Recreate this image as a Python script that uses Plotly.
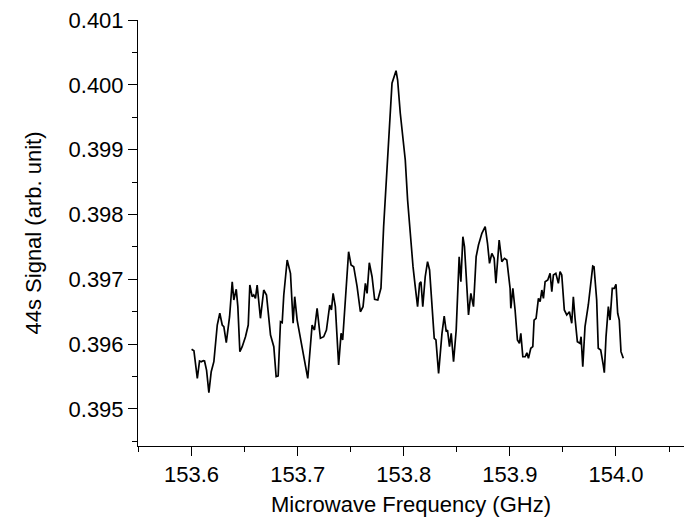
import plotly.graph_objects as go

freq_ghz = [
    153.6000, 153.6022, 153.6054, 153.6075, 153.6091, 153.6110, 153.6122, 153.6141, 153.6163, 153.6185,
    153.6210, 153.6242, 153.6266, 153.6289, 153.6304, 153.6327, 153.6358, 153.6383, 153.6398, 153.6421,
    153.6436, 153.6455, 153.6477, 153.6508, 153.6534, 153.6549, 153.6571, 153.6586, 153.6602, 153.6618,
    153.6649, 153.6680, 153.6706, 153.6744, 153.6775, 153.6797, 153.6816, 153.6838, 153.6854, 153.6869,
    153.6901, 153.6932, 153.6957, 153.6972, 153.6995, 153.7042, 153.7095, 153.7136, 153.7158, 153.7183,
    153.7214, 153.7245, 153.7271, 153.7302, 153.7318, 153.7334, 153.7355, 153.7386, 153.7409, 153.7424,
    153.7449, 153.7480, 153.7503, 153.7528, 153.7560, 153.7591, 153.7616, 153.7638, 153.7654, 153.7675,
    153.7701, 153.7725, 153.7755, 153.7785, 153.7810, 153.7835, 153.7857, 153.7889, 153.7927, 153.7942,
    153.7967, 153.7992, 153.8014, 153.8036, 153.8061, 153.8087, 153.8108, 153.8130, 153.8149, 153.8162,
    153.8179, 153.8202, 153.8224, 153.8243, 153.8287, 153.8303, 153.8328, 153.8360, 153.8381, 153.8400,
    153.8412, 153.8431, 153.8447, 153.8469, 153.8494, 153.8522, 153.8538, 153.8557, 153.8572, 153.8595,
    153.8610, 153.8632, 153.8657, 153.8682, 153.8704, 153.8736, 153.8767, 153.8789, 153.8808, 153.8830,
    153.8852, 153.8868, 153.8899, 153.8924, 153.8949, 153.8971, 153.9002, 153.9009, 153.9028, 153.9049,
    153.9071, 153.9090, 153.9103, 153.9122, 153.9144, 153.9160, 153.9175, 153.9197, 153.9216, 153.9228,
    153.9247, 153.9269, 153.9285, 153.9301, 153.9316, 153.9332, 153.9357, 153.9379, 153.9395, 153.9410,
    153.9433, 153.9457, 153.9473, 153.9489, 153.9513, 153.9536, 153.9561, 153.9583, 153.9598, 153.9614,
    153.9636, 153.9661, 153.9671, 153.9687, 153.9708, 153.9739, 153.9762, 153.9781, 153.9793, 153.9818,
    153.9833, 153.9856, 153.9880, 153.9890, 153.9906, 153.9928, 153.9944, 153.9965, 153.9984, 154.0000,
    154.0016, 154.0031, 154.0047, 154.0069,
]

signal_44s = [
    0.395921, 0.395899, 0.395473, 0.395740, 0.395729, 0.395745, 0.395740, 0.395601, 0.395251, 0.395575,
    0.395729, 0.396295, 0.396476, 0.396295, 0.396269, 0.396022, 0.396423, 0.396963, 0.396681, 0.396846,
    0.396578, 0.395884, 0.395961, 0.396115, 0.396295, 0.396912, 0.396732, 0.396758, 0.396707, 0.396912,
    0.396399, 0.396835, 0.396758, 0.396141, 0.395961, 0.395498, 0.395509, 0.396346, 0.396331, 0.396758,
    0.397298, 0.397093, 0.396322, 0.396732, 0.396372, 0.395961, 0.395473, 0.396295, 0.396218, 0.396553,
    0.396090, 0.396115, 0.396218, 0.396604, 0.396527, 0.396784, 0.396578, 0.395678, 0.396167, 0.396064,
    0.396732, 0.397426, 0.397221, 0.397195, 0.396886, 0.396500, 0.396578, 0.396939, 0.396784, 0.397256,
    0.397040, 0.396692, 0.396681, 0.396866, 0.397812, 0.398481, 0.399200, 0.400024, 0.400218, 0.400074,
    0.399561, 0.399200, 0.398840, 0.398223, 0.397657, 0.397195, 0.396886, 0.396578, 0.396939, 0.396963,
    0.396578, 0.397040, 0.397272, 0.397144, 0.396090, 0.396064, 0.395550, 0.396167, 0.396434, 0.396192,
    0.396218, 0.395961, 0.396167, 0.395729, 0.396218, 0.397349, 0.396963, 0.397657, 0.397503, 0.396784,
    0.396450, 0.396784, 0.396578, 0.397349, 0.397529, 0.397710, 0.397812, 0.397556, 0.397247, 0.397401,
    0.397324, 0.396939, 0.397606, 0.397272, 0.397324, 0.397298, 0.396861, 0.396553, 0.396861, 0.396527,
    0.396064, 0.396013, 0.396167, 0.395806, 0.395806, 0.395868, 0.395782, 0.395936, 0.395961, 0.396372,
    0.396399, 0.396707, 0.396655, 0.396835, 0.396707, 0.396963, 0.396989, 0.397093, 0.396809, 0.397067,
    0.397093, 0.396939, 0.397117, 0.397067, 0.396527, 0.396450, 0.396500, 0.396322, 0.396732, 0.396399,
    0.396038, 0.396013, 0.396115, 0.395652, 0.396269, 0.396604, 0.396886, 0.397205, 0.397195, 0.396681,
    0.395936, 0.395910, 0.395678, 0.395560, 0.396115, 0.396578, 0.396372, 0.396861, 0.396861, 0.396923,
    0.396476, 0.396372, 0.395884, 0.395782,
]

x_title = "Microwave Frequency (GHz)"
y_title = "44s Signal (arb. unit)"

FONT = "Liberation Sans, Arial, sans-serif"

fig = go.Figure()
fig.add_trace(go.Scatter(
    x=freq_ghz, y=signal_44s, mode="lines",
    line=dict(color="black", width=1.7),
    showlegend=False,
))

fig.update_layout(
    width=684, height=526,
    margin=dict(l=138, r=0, t=20, b=80),
    paper_bgcolor="white", plot_bgcolor="white",
    font=dict(family=FONT, size=22, color="black"),
)

fig.update_xaxes(
    range=[153.5495, 154.0641],
    tick0=153.6, dtick=0.1, tickformat=".1f",
    ticks="outside", ticklen=9, tickwidth=1, tickcolor="black",
    minor=dict(dtick=0.05, tick0=153.55, ticks="outside", ticklen=5, tickwidth=1, tickcolor="black", showgrid=False),
    showline=True, linecolor="black", linewidth=1,
    showgrid=False, zeroline=False, automargin=False,
    tickfont=dict(family=FONT, size=22, color="black"),
    title=dict(text=x_title, font=dict(family=FONT, size=22, color="black"), standoff=10),
)

fig.update_yaxes(
    range=[0.394429, 0.401],
    tick0=0.395, dtick=0.001, tickformat=".3f",
    ticks="outside", ticklen=9, tickwidth=1, tickcolor="black",
    minor=dict(dtick=0.0005, ticks="outside", ticklen=5, tickwidth=1, tickcolor="black", showgrid=False),
    showline=True, linecolor="black", linewidth=1,
    showgrid=False, zeroline=False, automargin=False,
    tickfont=dict(family=FONT, size=22, color="black"),
    title=dict(text=y_title, font=dict(family=FONT, size=22, color="black"), standoff=20),
)

fig.write_html("out.html")
